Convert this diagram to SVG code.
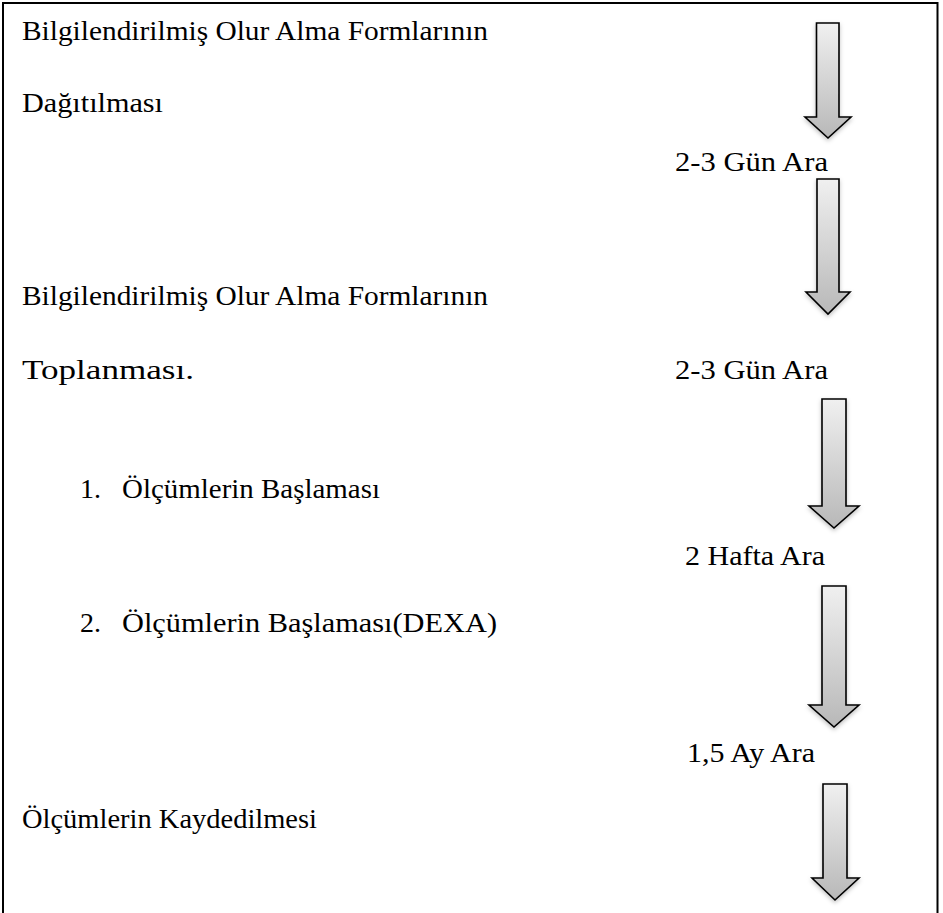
<svg xmlns="http://www.w3.org/2000/svg" width="943" height="913" viewBox="0 0 943 913">
<style>
text{font-family:"Liberation Serif","Times New Roman",serif;font-size:28px;fill:#000}
.arrow{fill:url(#g);stroke:#000;stroke-width:1.6;stroke-linejoin:miter;filter:url(#sh)}
</style>
<defs>
<linearGradient id="g" x1="0" y1="0" x2="0" y2="1">
<stop offset="0" stop-color="#f0f0f0"/>
<stop offset="1" stop-color="#b8b8b8"/>
</linearGradient>
<filter id="sh" x="-30%" y="-10%" width="160%" height="130%">
<feDropShadow dx="0" dy="2" stdDeviation="2" flood-color="#000" flood-opacity="0.25"/>
</filter>
</defs>
<rect width="943" height="913" fill="#fff"/>
<g id="frame">
<path d="M3,913 V3 H937.5 V913" fill="none" stroke="#000" stroke-width="2"/>
</g>
<g id="texts">
<text x="22" y="40" textLength="466" lengthAdjust="spacingAndGlyphs">Bilgilendirilmiş Olur Alma Formlarının</text>
<text x="22" y="112" textLength="141" lengthAdjust="spacingAndGlyphs">Dağıtılması</text>
<text x="675" y="171" textLength="153" lengthAdjust="spacingAndGlyphs">2-3 Gün Ara</text>
<text x="22" y="305" textLength="466" lengthAdjust="spacingAndGlyphs">Bilgilendirilmiş Olur Alma Formlarının</text>
<text x="22" y="379" textLength="172" lengthAdjust="spacingAndGlyphs">Toplanması.</text>
<text x="675" y="379" textLength="153" lengthAdjust="spacingAndGlyphs">2-3 Gün Ara</text>
<text x="80" y="498">1.</text>
<text x="122" y="498" textLength="258" lengthAdjust="spacingAndGlyphs">Ölçümlerin Başlaması</text>
<text x="685" y="565" textLength="140" lengthAdjust="spacingAndGlyphs">2 Hafta Ara</text>
<text x="80" y="632">2.</text>
<text x="122" y="632" textLength="375" lengthAdjust="spacingAndGlyphs">Ölçümlerin Başlaması(DEXA)</text>
<text x="687" y="762" textLength="128" lengthAdjust="spacingAndGlyphs">1,5 Ay Ara</text>
<text x="22" y="828" textLength="295" lengthAdjust="spacingAndGlyphs">Ölçümlerin Kaydedilmesi</text>
</g>
<g id="connectors">
<path class="arrow" d="M816.5,23 H839 V117 H851 L828,138 L805,117 H816.5 Z"/>
<path class="arrow" d="M817,179 H839 V292 H850 L828,314 L806,292 H817 Z"/>
<path class="arrow" d="M822,399 H846 V506 H859 L834,528 L809,506 H822 Z"/>
<path class="arrow" d="M822,586 H846 V705 H859 L834,727 L809,705 H822 Z"/>
<path class="arrow" d="M823,784 H847 V878 H859 L835,900 L812,878 H823 Z"/>
</g>
</svg>
